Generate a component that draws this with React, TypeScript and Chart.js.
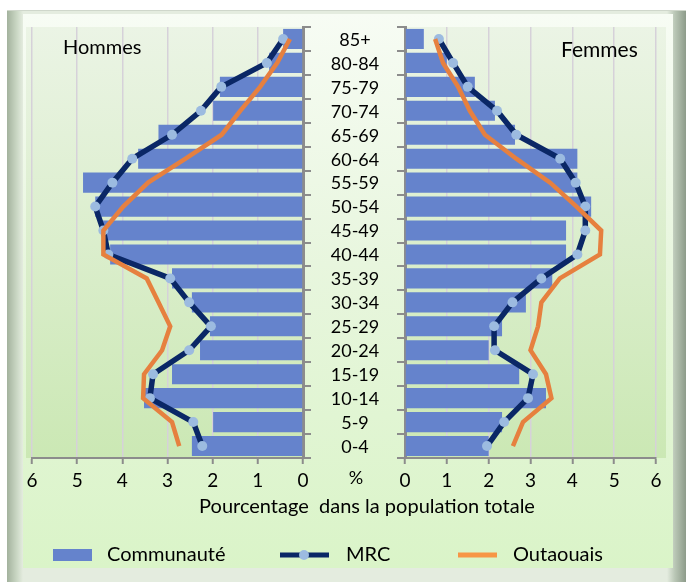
import React, { useEffect, useRef } from 'react';
import { Chart, registerables } from 'chart.js';

Chart.register(...registerables);

// ---------- DATA ----------
const AGES = ['0-4', '5-9', '10-14', '15-19', '20-24', '25-29', '30-34', '35-39', '40-44', '45-49', '50-54', '55-59', '60-64', '65-69', '70-74', '75-79', '80-84', '85+'];

const HOMMES_COMMUNAUTE = [2.46, 1.99, 3.52, 2.9, 2.28, 2.06, 2.46, 2.9, 4.27, 4.45, 4.6, 4.87, 3.65, 3.2, 1.99, 1.84, 0.75, 0.44];
const HOMMES_MRC = [2.23, 2.43, 3.39, 3.32, 2.52, 2.04, 2.52, 2.94, 4.31, 4.42, 4.6, 4.22, 3.78, 2.9, 2.26, 1.81, 0.8, 0.44];
const HOMMES_OUTAOUAIS = [2.74, 2.9, 3.54, 3.52, 3.12, 2.94, 3.2, 3.46, 4.42, 4.42, 3.98, 3.43, 2.6, 1.8, 1.39, 0.95, 0.57, 0.29];

const FEMMES_COMMUNAUTE = [2.0, 2.32, 3.37, 2.73, 2.0, 2.32, 2.89, 3.52, 3.85, 3.85, 4.45, 4.12, 4.12, 2.63, 2.15, 1.67, 1.0, 0.45];
const FEMMES_MRC = [1.96, 2.37, 2.94, 3.06, 2.15, 2.13, 2.57, 3.26, 4.12, 4.31, 4.31, 4.08, 3.71, 2.66, 2.2, 1.5, 1.15, 0.81];
const FEMMES_OUTAOUAIS = [2.58, 2.82, 3.5, 3.37, 3.0, 3.18, 3.26, 3.7, 4.66, 4.69, 4.1, 3.47, 2.66, 1.91, 1.55, 1.27, 0.91, 0.72];

const X_MIN = 0;
const X_MAX = 6;
const X_STEP = 1;

const SERIES_NAMES = ['Communauté', 'MRC', 'Outaouais'];
const PANEL_TITLES = ['Hommes', 'Femmes'];
const AXIS_TITLE = 'Pourcentage  dans la population totale';
const UNIT_LABEL = '%';

// ---------- STYLE ----------
const W = 686;
const H = 583;
const FONT = 'Lato, "Open Sans", sans-serif';
const BAR_COLOR = '#6583cc';
const MRC_COLOR = '#0a2766';
const MARKER_COLOR = '#9cbbe0';
const OUT_COLOR = '#e6803f';
const AXIS_COLOR = '#8c8c8c';
const GRID_COLOR = '#d6d1d9';

const PLOT_TOP = 27;
const PLOT_BOTTOM = 458;
const Y_W = 10;
const X_H = 40;

type Side = 'L' | 'R';

function plotBgPlugin(side: Side) {
  return {
    id: 'plotBg' + side,
    beforeDraw(chart: any) {
      const { ctx, chartArea } = chart;
      const l = side === 'L' ? chartArea.left - 6 : chartArea.left;
      const r = side === 'L' ? chartArea.right : chartArea.right + 10;
      const g = ctx.createLinearGradient(0, chartArea.top, 0, chartArea.bottom);
      g.addColorStop(0, '#ebf4e5');
      g.addColorStop(1, '#cbe8b4');
      ctx.save();
      ctx.fillStyle = g;
      ctx.fillRect(l, chartArea.top, r - l, chartArea.bottom - chartArea.top);
      ctx.restore();
    },
  };
}

function textPlugin(side: Side) {
  return {
    id: 'texts' + side,
    afterDraw(chart: any) {
      const { ctx } = chart;
      const yScale = chart.scales.y;
      ctx.save();
      ctx.fillStyle = '#000';
      ctx.textBaseline = 'middle';
      if (side === 'L') {
        // age labels in the middle column
        ctx.font = `18px ${FONT}`;
        ctx.textAlign = 'center';
        AGES.forEach((a, i) => {
          ctx.fillText(a, 355, yScale.getPixelForValue(i) + 1);
        });
        ctx.font = `20px ${FONT}`;
        ctx.textAlign = 'left';
        ctx.fillText(PANEL_TITLES[0], 63, 48);
        ctx.font = `18px ${FONT}`;
        ctx.textAlign = 'center';
        ctx.fillText(UNIT_LABEL, 356, 478);
      } else {
        ctx.font = `21px ${FONT}`;
        ctx.textAlign = 'left';
        ctx.fillText(PANEL_TITLES[1], 561, 50);
        ctx.font = `20px ${FONT}`;
        ctx.textAlign = 'center';
        ctx.fillText(AXIS_TITLE, 367, 507);

        // legend
        const ly = 555;
        ctx.fillStyle = BAR_COLOR;
        ctx.fillRect(53, ly - 6, 39, 12);
        ctx.strokeStyle = MRC_COLOR;
        ctx.lineWidth = 5;
        ctx.beginPath();
        ctx.moveTo(280, ly);
        ctx.lineTo(329, ly);
        ctx.stroke();
        ctx.fillStyle = MARKER_COLOR;
        ctx.beginPath();
        ctx.arc(304, ly, 5, 0, Math.PI * 2);
        ctx.fill();
        ctx.strokeStyle = '#f79646';
        ctx.lineWidth = 5;
        ctx.beginPath();
        ctx.moveTo(458, ly);
        ctx.lineTo(497, ly);
        ctx.stroke();
        ctx.fillStyle = '#000';
        ctx.textAlign = 'left';
        ctx.font = `20px ${FONT}`;
        ctx.fillText(SERIES_NAMES[0], 107, ly);
        ctx.fillText(SERIES_NAMES[1], 346, ly);
        ctx.fillText(SERIES_NAMES[2], 513, ly);
      }
      ctx.restore();
    },
  };
}

function makeConfig(side: Side, comm: number[], mrc: number[], outa: number[]): any {
  const isL = side === 'L';
  const padding = isL
    ? { left: 32, right: W - 303 - Y_W, top: PLOT_TOP, bottom: H - PLOT_BOTTOM - X_H }
    : { left: 405 - Y_W, right: W - 656, top: PLOT_TOP, bottom: H - PLOT_BOTTOM - X_H };
  return {
    type: 'bar',
    data: {
      labels: AGES,
      datasets: [
        {
          type: 'bar',
          label: SERIES_NAMES[0],
          data: comm,
          backgroundColor: BAR_COLOR,
          barPercentage: 0.84,
          categoryPercentage: 1,
          order: 3,
        },
        {
          type: 'line',
          label: SERIES_NAMES[1],
          data: mrc,
          indexAxis: 'y',
          borderColor: MRC_COLOR,
          borderWidth: 5.5,
          borderJoinStyle: 'round',
          pointRadius: 5,
          pointBackgroundColor: MARKER_COLOR,
          pointBorderColor: MARKER_COLOR,
          pointBorderWidth: 0,
          tension: 0,
          fill: false,
          order: 2,
        },
        {
          type: 'line',
          label: SERIES_NAMES[2],
          data: outa,
          indexAxis: 'y',
          borderColor: OUT_COLOR,
          borderWidth: 4.5,
          borderJoinStyle: 'miter',
          pointRadius: 0,
          tension: 0,
          fill: false,
          order: 1,
        },
      ],
    },
    options: {
      indexAxis: 'y',
      animation: false,
      responsive: false,
      maintainAspectRatio: false,
      events: [],
      layout: { padding },
      plugins: { legend: { display: false }, tooltip: { enabled: false }, title: { display: false } },
      scales: {
        x: {
          type: 'linear',
          min: X_MIN,
          max: X_MAX,
          reverse: isL,
          position: 'bottom',
          afterFit: (s: any) => {
            s.height = X_H;
          },
          ticks: { stepSize: X_STEP, color: '#000', font: { family: FONT, size: 19 }, padding: 5 },
          grid: {
            color: GRID_COLOR,
            lineWidth: 1.5,
            borderDash: [5, 4],
            drawTicks: true,
            tickLength: 6,
            tickColor: AXIS_COLOR,
            tickWidth: 2,
            tickBorderDash: [],
          },
          border: { display: true, color: AXIS_COLOR, width: 2 },
        },
        y: {
          type: 'category',
          position: isL ? 'right' : 'left',
          reverse: true,
          offset: true,
          afterFit: (s: any) => {
            s.width = Y_W;
          },
          ticks: { display: false },
          grid: {
            offset: true,
            drawOnChartArea: false,
            drawTicks: true,
            tickLength: 8,
            color: AXIS_COLOR,
            lineWidth: 2,
          },
          border: { display: true, color: AXIS_COLOR, width: 3 },
        },
      },
    },
    plugins: [plotBgPlugin(side), textPlugin(side)],
  };
}

export default function App() {
  const leftRef = useRef<HTMLCanvasElement | null>(null);
  const rightRef = useRef<HTMLCanvasElement | null>(null);

  useEffect(() => {
    const cl = new Chart(leftRef.current as HTMLCanvasElement, makeConfig('L', HOMMES_COMMUNAUTE, HOMMES_MRC, HOMMES_OUTAOUAIS));
    const cr = new Chart(rightRef.current as HTMLCanvasElement, makeConfig('R', FEMMES_COMMUNAUTE, FEMMES_MRC, FEMMES_OUTAOUAIS));
    return () => {
      cl.destroy();
      cr.destroy();
    };
  }, []);

  return (
    <div style={{ position: 'fixed', left: 0, top: 0, width: W, height: H, background: '#ffffff', overflow: 'hidden' }}>
      <div
        style={{
          position: 'absolute',
          left: 7,
          top: 10,
          width: 679,
          height: 571,
          background: 'linear-gradient(to right, #a3b29d 0px, #cbd8c5 10px, #e4ecdf 16px, #e4ecdf 660px, #b9c6b5 668px, #8d9b8a 679px)',
          borderTop: '1px solid #cfd7cb',
        }}
      />
      <div
        style={{
          position: 'absolute',
          left: 23,
          top: 14,
          width: 650,
          height: 554,
          background: 'linear-gradient(to bottom, #f7fcf4 0%, #e8f6de 45%, #daf4c8 100%)',
        }}
      />
      <canvas ref={leftRef} width={W} height={H} style={{ position: 'absolute', left: 0, top: 0, width: W, height: H }} />
      <canvas ref={rightRef} width={W} height={H} style={{ position: 'absolute', left: 0, top: 0, width: W, height: H }} />
    </div>
  );
}
